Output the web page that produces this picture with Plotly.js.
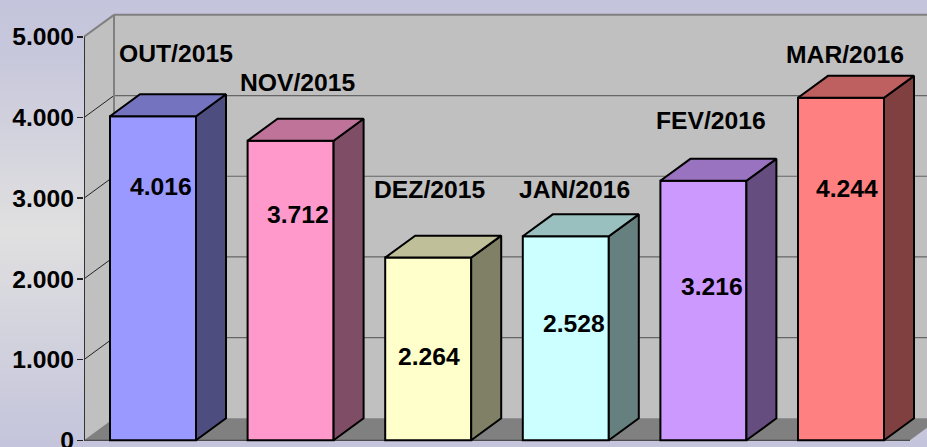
<!DOCTYPE html>
<html>
<head>
<meta charset="utf-8">
<script src="https://cdn.plot.ly/plotly-3.0.1.min.js"></script>
<style>
html,body{margin:0;padding:0;width:927px;height:447px;overflow:hidden;
background:linear-gradient(180deg,#c4c4dc 0%,#c6c6dc 10%,#e0e0e0 52%,#c4c4dc 100%);}
#chart{width:927px;height:447px;}
</style>
</head>
<body>
<div id="chart"></div>
<script>
const categories = ['OUT/2015','NOV/2015','DEZ/2015','JAN/2016','FEV/2016','MAR/2016'];
const values = [4016,3712,2264,2528,3216,4244];
const valueText = ['4.016','3.712','2.264','2.528','3.216','4.244'];
const barColors = ['#9999FF','#FF99CC','#FFFFCC','#CCFFFF','#CC99FF','#FF8080'];
const tickValues = [0,1000,2000,3000,4000,5000];
const tickText = ['0','1.000','2.000','3.000','4.000','5.000'];

// Label placement on the canvas (pixel centres)
const nameCx = [176,298,429,574,711,845];
const nameCy = [53,82,189,189,120,54];
const valueCx = [161,298,429,574,712,847];
const valueCy = [186,214,356,323,286,188];

// Axis scale
const W = 927, H = 447, L = 84;
const unitPx = 137.6, pxPerVal = 0.0807, zeroPy = 440.3, firstCx = 153;
const xMin = (L - firstCx) / unitPx, xMax = (W - firstCx) / unitPx;
const yMin = (zeroPy - H) / pxPerVal, yMax = zeroPy / pxPerVal;
const toX = px => (px - firstCx) / unitPx;
const toY = py => (zeroPy - py) / pxPerVal;

// Oblique depth in axis units
const depthX = 30 / unitPx, depthY = 272;
const barW = 86 / unitPx;
const frontLeft = xMin, frontRight = toX(910);
const topVal = 5000;

const shade = (hex, f) => {
  const n = parseInt(hex.slice(1), 16);
  return 'rgb(' + [n >> 16 & 255, n >> 8 & 255, n & 255].map(c => Math.round(c * f)).join(',') + ')';
};
const poly = pts => 'M' + pts.map(p => p[0] + ',' + p[1]).join(' L') + ' Z';
const seg = (a, b) => 'M' + a[0] + ',' + a[1] + ' L' + b[0] + ',' + b[1];
const shape = (path, fill, color, width) => ({
  type: 'path', xref: 'x', yref: 'y', layer: 'below', path: path,
  fillcolor: fill || 'rgba(0,0,0,0)', line: {color: color || 'rgba(0,0,0,0)', width: width || 0}
});

const shapes = [
  // back wall
  shape(poly([[frontLeft+depthX,depthY],[frontRight+depthX,depthY],[frontRight+depthX,topVal+depthY],[frontLeft+depthX,topVal+depthY]]), '#C0C0C0'),
  // side wall
  shape(poly([[frontLeft,0],[frontLeft+depthX,depthY],[frontLeft+depthX,topVal+depthY],[frontLeft,topVal]]), '#C0C0C0'),
  // floor
  shape(poly([[frontLeft,0],[frontLeft+depthX,depthY],[frontRight+depthX,depthY],[frontRight,0]]), '#808080')
];
// gridlines on the back wall + diagonals on the side wall
tickValues.slice(1).forEach(v => {
  const isTop = v === topVal;
  shapes.push(shape(seg([frontLeft+depthX,v+depthY],[frontRight+depthX,v+depthY]), null, isTop ? '#808080' : '#666666', isTop ? 2 : 1.2));
  shapes.push(shape(seg([frontLeft,v],[frontLeft+depthX,v+depthY]), null, isTop ? '#808080' : '#222222', isTop ? 2 : 1));
});
// wall edge and axis lines
shapes.push(shape(seg([frontLeft+depthX,depthY],[frontLeft+depthX,topVal+depthY]), null, '#808080', 2));
shapes.push(shape(seg([frontLeft,0],[frontLeft,topVal]), null, '#333333', 2));
shapes.push(shape(seg([frontLeft,0],[frontRight,0]), null, '#333333', 1));

const idx = categories.map((_, i) => i);
const traces = [{
  type: 'bar', x: idx, y: values, width: barW,
  marker: {color: barColors, line: {color: '#000', width: 2}},
  hoverinfo: 'skip', showlegend: false
}];
idx.forEach(i => {
  const l = i - barW / 2, r = i + barW / 2, v = values[i];
  const common = {type: 'scatter', mode: 'lines', fill: 'toself', cliponaxis: true,
    line: {color: '#000', width: 2}, hoverinfo: 'skip', showlegend: false};
  traces.push(Object.assign({}, common, {
    x: [r, r+depthX, r+depthX, r, r],
    y: [0, depthY, v+depthY, v, 0],
    fillcolor: shade(barColors[i], 0.5)
  }));
  traces.push(Object.assign({}, common, {
    x: [l, l+depthX, r+depthX, r, l],
    y: [v, v+depthY, v+depthY, v, v],
    fillcolor: shade(barColors[i], 0.75)
  }));
});

const labelFont = {family: '"Liberation Sans", Arial, sans-serif', size: 24.7, color: '#000', weight: 700};
const mkLabel = (text, cx, cy) => ({
  text: '<b>' + text + '</b>', x: toX(cx), y: toY(cy), xref: 'x', yref: 'y',
  showarrow: false, xanchor: 'center', yanchor: 'middle', font: labelFont
});
const annotations = idx.map(i => mkLabel(categories[i], nameCx[i], nameCy[i]))
  .concat(idx.map(i => mkLabel(valueText[i], valueCx[i], valueCy[i])));

const layout = {
  width: W, height: H, autosize: false,
  margin: {l: L, r: 0, t: 0, b: 0, pad: 0},
  paper_bgcolor: 'rgba(0,0,0,0)', plot_bgcolor: 'rgba(0,0,0,0)',
  showlegend: false, barmode: 'overlay',
  xaxis: {range: [xMin, xMax], visible: false, fixedrange: true},
  yaxis: {range: [yMin, yMax], tickmode: 'array', tickvals: tickValues, ticktext: tickText,
    ticks: 'outside', ticklen: 6, tickwidth: 1.5, tickcolor: '#222', showgrid: false, zeroline: false, showline: false,
    ticklabeloverflow: 'allow', ticklabelstandoff: -2,
    tickfont: {family: '"Liberation Sans", Arial, sans-serif', size: 24.7, color: '#000', weight: 700}, fixedrange: true},
  shapes: shapes,
  annotations: annotations
};
Plotly.newPlot('chart', traces, layout, {displayModeBar: false, staticPlot: true});
</script>
</body>
</html>
